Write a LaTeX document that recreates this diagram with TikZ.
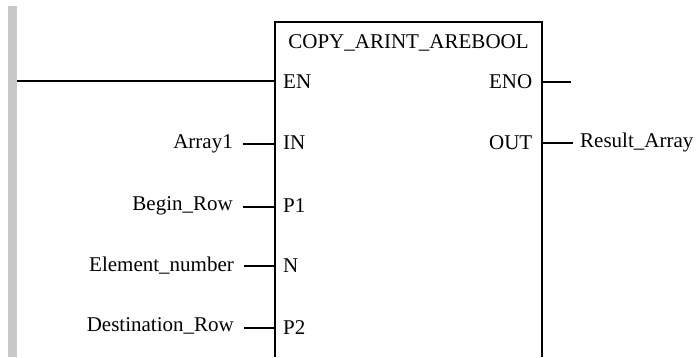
\documentclass[tikz,border=0pt]{standalone}
\usepackage{fontspec}
\setmainfont{Liberation Serif}
\begin{document}
\begin{tikzpicture}[x=1pt,y=-1pt,
  lbl/.style={inner sep=0pt,font=\fontsize{21}{25}\selectfont},
  pinin/.style={lbl,anchor=base west},
  pinout/.style={lbl,anchor=base east},
  varin/.style={lbl,anchor=base east},
  varout/.style={lbl,anchor=base west},
  wire/.style={line width=2pt},
  boxline/.style={line width=2.2pt}]
\useasboundingbox (0,0) rectangle (696,357);
% power rail
\fill[fill={rgb,255:red,200;green,200;blue,200}] (8,6) rectangle (17,357);
\coordinate (rail) at (17,81);
% block outline (open at bottom)
\draw[boxline] (275,357) -- (275,22) -- (542,22) -- (542,357);
\node[lbl,anchor=base] (title) at (408.5,48) {COPY\_ARINT\_AREBOOL};
% pin coordinates
\coordinate (pEN) at (275,81);
\coordinate (pIN) at (275,144);
\coordinate (pP1) at (275,207);
\coordinate (pN) at (275,266);
\coordinate (pP2) at (275,328);
\coordinate (pENO) at (542,82);
\coordinate (pOUT) at (542,143);
% pin labels
\node[pinin] (lEN) at (283,88) {EN};
\node[pinin] (lIN) at (283,149) {IN};
\node[pinin] (lP1) at (283,212) {P1};
\node[pinin] (lN) at (283,272) {N};
\node[pinin] (lP2) at (283,334) {P2};
\node[pinout] (lENO) at (532.5,88) {ENO};
\node[pinout] (lOUT) at (532.5,149) {OUT};
% variables
\node[varin] (vA) at (233,148) {Array1};
\node[varin] (vB) at (233,210) {Begin\_Row};
\node[varin] (vE) at (234,271) {Element\_number};
\node[varin] (vD) at (234,331) {Destination\_Row};
\node[varout] (vR) at (580,147) {Result\_Array};
\coordinate (eno) at (571,82);
% wires
\draw[wire] (rail) -- (pEN);
\draw[wire] (vA.east |- pIN) ++(10,0) -- (pIN);
\draw[wire] (vB.east |- pP1) ++(10,0) -- (pP1);
\draw[wire] (vE.east |- pN) ++(10,0) -- (pN);
\draw[wire] (vD.east |- pP2) ++(10,0) -- (pP2);
\draw[wire] (pENO) -- (eno);
\draw[wire] (pOUT) -- ([xshift=-7pt]vR.west |- pOUT);
\end{tikzpicture}
\end{document}
